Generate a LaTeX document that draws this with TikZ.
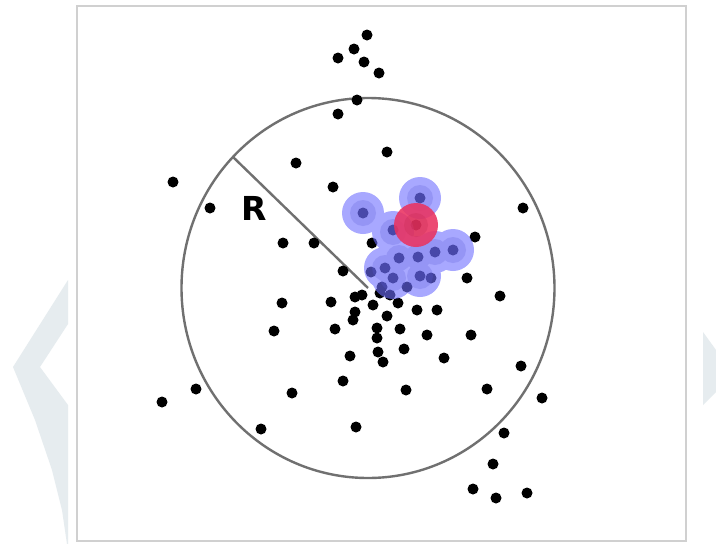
\documentclass[tikz,border=0pt]{standalone}
\usepackage{fontspec}
\newfontfamily\labelfont{DejaVu Sans}
\definecolor{framegrey}{RGB}{208,208,208}
\definecolor{ringgrey}{RGB}{112,112,112}
\definecolor{wmark}{RGB}{230,236,239}
\definecolor{haloblue}{RGB}{110,110,255}
\definecolor{hotred}{RGB}{234,50,96}
\tikzset{
  dotstyle/.style={fill=black},
  haloouter/.style={fill=haloblue},
  haloinner/.style={fill=haloblue!85!black},
  redouter/.style={fill=hotred, fill opacity=0.88},
  redinner/.style={fill=hotred!85!black, fill opacity=0.3},
}
\begin{document}
\begin{tikzpicture}[x=1pt,y=-1pt]
\useasboundingbox (0,0) rectangle (716,544);
\fill[white] (0,0) rectangle (716,544);
% watermark chevrons
\fill[wmark] (68,280) -- (13,367) -- (35,420) -- (52,470) -- (62,510) -- (67,544) -- (68,544) -- (68,405) -- (40,367) -- (68,324) -- cycle;
\fill[wmark] (703,332) -- (716,350) -- (716,392) -- (703,405) -- cycle;
% frame
\draw[framegrey, line width=2pt, fill=white] (76.5,6) rectangle (686,541);
% big circle and radius
\draw[ringgrey, line width=2.4pt] (368,288) ellipse [x radius=186.5, y radius=190];
\draw[ringgrey, line width=2.4pt] (368,288) -- (233,157);
\node[font=\labelfont\bfseries\fontsize{33}{33}\selectfont, inner sep=0] (rlabel) at (254,208) {R};
% black dots
\foreach \x/\y in {
 367/35, 354/49, 338/58, 364/62, 379/73, 357/100, 338/114,
 387/152, 296/163, 173/182, 333/187, 210/208, 523/208,
 283/243, 314/243, 372/243, 475/237,
 343/271, 371/272, 431/278, 467/278, 382/287, 407/287,
 500/296, 380/293, 390/295, 355/297, 362/295, 331/302, 282/303, 373/305, 398/303, 417/310, 437/310, 355/312, 353/320, 387/316,
 274/331, 335/329, 377/328, 400/329, 427/335, 471/335, 377/338, 378/352, 404/349, 350/356, 383/362, 444/358, 521/366,
 343/381, 196/389, 162/402, 292/393, 406/390, 487/389, 542/398, 261/429, 356/427, 504/433, 493/464, 473/489, 496/498, 527/493,
 363/213, 420/198, 416/225, 393/230, 399/258, 418/257, 435/252, 453/250, 385/268, 393/278, 420/276}
 {\fill[dotstyle] (\x,\y) circle (5.5);}
% blue halos (union, then inner discs)
\begin{scope}[transparency group, opacity=0.6]
\foreach \x/\y in {363/213, 420/198, 393/232, 399/258, 418/257, 435/252, 453/250, 385/268, 393/278, 420/276}
 {\fill[haloouter] (\x,\y) circle (21);}
\end{scope}
\begin{scope}[transparency group, opacity=0.25]
\foreach \x/\y in {363/213, 420/198, 393/232, 399/258, 418/257, 435/252, 453/250, 385/268, 393/278, 420/276}
 {\fill[haloinner] (\x,\y) circle (13);}
\end{scope}
% red focus
\fill[redouter] (416,225) circle (22);
\fill[redinner] (416,225) circle (12);
\end{tikzpicture}
\end{document}
